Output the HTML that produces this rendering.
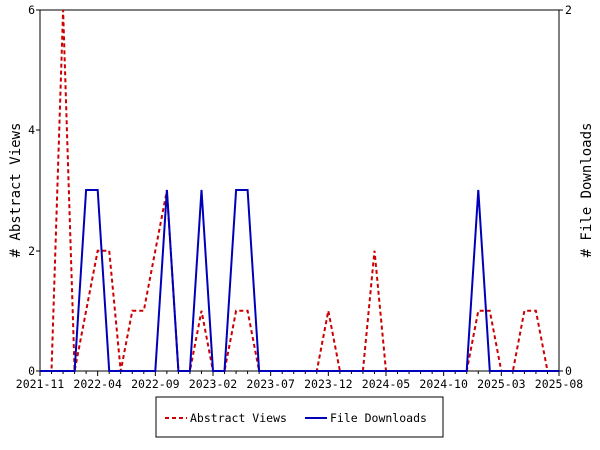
<!DOCTYPE html>
<html><head><style>body{margin:0;background:#fff}svg{display:block}text{font-family:"DejaVu Sans Mono","Liberation Mono",monospace;font-size:11.5px;fill:#000}</style></head><body>
<svg width="600" height="450" xmlns="http://www.w3.org/2000/svg">
<rect x="40" y="10" width="519" height="361" fill="none" stroke="#000" stroke-width="1"/>
<g id="ticks" stroke="#000"></g>
<g id="lbl"></g>
<text x="35" y="14" text-anchor="end">6</text>
<text x="35" y="134" text-anchor="end">4</text>
<text x="35" y="255" text-anchor="end">2</text>
<text x="35" y="375" text-anchor="end">0</text>
<text x="565" y="14">2</text>
<text x="565" y="375">0</text>
<text transform="translate(20,190) rotate(-90)" text-anchor="middle" style="font-size:14px">#&#160;Abstract&#160;Views</text>
<text transform="translate(591,190) rotate(-90)" text-anchor="middle" style="font-size:14px">#&#160;File&#160;Downloads</text>
<polyline id="red" fill="none" stroke="#cc0000" stroke-width="2" stroke-dasharray="4,3"/>
<polyline id="blue" fill="none" stroke="#0000bb" stroke-width="2"/>
<rect x="156" y="397" width="287" height="40" fill="#fff" stroke="#000"/>
<line x1="165" y1="418" x2="187" y2="418" stroke="#cc0000" stroke-width="2" stroke-dasharray="4,3"/>
<text x="190" y="422">Abstract Views</text>
<line x1="305" y1="418" x2="327" y2="418" stroke="#0000bb" stroke-width="2"/>
<text x="330" y="422">File Downloads</text>
</svg>
<script>
var x0=40,dx=519/45;
var v=[0,0,6,0,1,2,2,0,1,1,2,3,0,0,1,0,0,1,1,0,0,0,0,0,0,1,0,0,0,2,0,0,0,0,0,0,0,0,1,1,0,0,1,1,0];
var d=[];for(var i=0;i<46;i++)d.push(0);[4,5,11,14,17,18,38].forEach(function(i){d[i]=1});
function y(val){return 371-val*60.17;}
document.getElementById('red').setAttribute('points',v.map(function(a,i){return (x0+i*dx).toFixed(1)+','+y(a).toFixed(1)}).join(' '));
document.getElementById('blue').setAttribute('points',d.map(function(a,i){return (x0+i*dx).toFixed(1)+','+(371-a*181).toFixed(1)}).join(' '));
var t='',l='';var labs=['2021-11','2022-04','2022-09','2023-02','2023-07','2023-12','2024-05','2024-10','2025-03','2025-08'];
for(var i=0;i<=45;i++){var x=x0+i*dx;t+='<line x1="'+x+'" y1="371" x2="'+x+'" y2="'+(i%5==0?376:374)+'"/>';if(i%5==0)l+='<text x="'+x+'" y="388" text-anchor="middle">'+labs[i/5]+'</text>';}
[10,130,251,371].forEach(function(yy){t+='<line x1="36" y1="'+yy+'" x2="40" y2="'+yy+'"/>';});
[10,371].forEach(function(yy){t+='<line x1="559" y1="'+yy+'" x2="563" y2="'+yy+'"/>';});
document.getElementById('ticks').innerHTML=t;document.getElementById('lbl').innerHTML=l;
</script>
</body></html>
